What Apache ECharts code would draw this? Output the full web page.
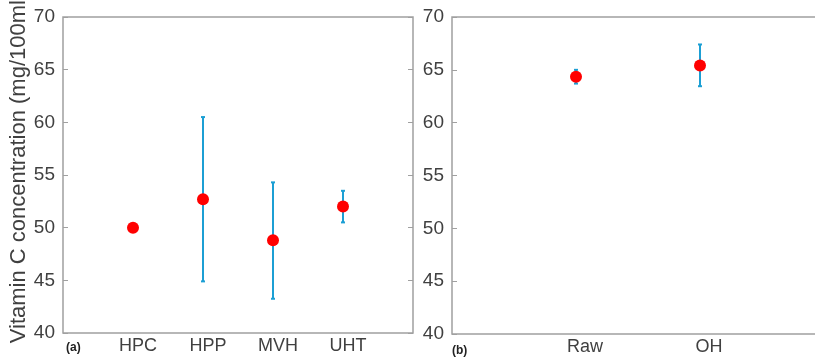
<!DOCTYPE html>
<html><head><meta charset="utf-8">
<script src="https://cdn.jsdelivr.net/npm/echarts@6/dist/echarts.min.js"></script>
<style>html,body{margin:0;padding:0;background:#fff}#c{width:815px;height:360px}</style>
</head><body><div id="c"></div>
<script>
const catsA = ['HPC','HPP','MVH','UHT'];
const meanA = [50.0, 52.7, 48.8, 52.0];
const lowA  = [49.9, 44.9, 43.25, 50.5];
const highA = [50.1, 60.5, 54.3, 53.5];
const catsB = ['Raw','OH'];
const meanB = [64.35, 65.4];
const lowB  = [63.7, 63.45];
const highB = [65.0, 67.4];
const yTicks = [40,45,50,55,60,65,70];
const yName = 'Vitamin C concentration (mg/100ml)';

const txt = '#404040', frame = '#a0a0a0', errC = '#1c9fd4';
const font = 'Liberation Sans, Arial, sans-serif';

function xAxisFor(idx, cats, padL, maxV){
  return [{
    gridIndex: idx, type:'value', min:0, max:maxV, interval:1,
    axisLine:{show:false}, axisTick:{show:false}, splitLine:{show:false},
    axisLabel:{color:txt, fontSize:18, fontFamily:font, margin:4, padding:[0,0,0,padL],
      formatter: v => (v>=1 && v<=cats.length) ? cats[v-1] : ''}
  }];
}
function yAxesFor(idx){
  return [{
    gridIndex: idx, type:'value', min:yTicks[0], max:yTicks[yTicks.length-1], interval:5,
    axisLine:{show:false}, splitLine:{show:false},
    axisTick:{show:true, inside:true, length:5, lineStyle:{color:frame}},
    axisLabel:{color:txt, fontSize:19, fontFamily:font, margin:8}
  },{
    gridIndex: idx, type:'value', position:'right', min:yTicks[0], max:yTicks[yTicks.length-1], interval:5,
    axisLine:{show:false}, splitLine:{show:false}, axisLabel:{show:false},
    axisTick:{show:idx===0, inside:true, length:5, lineStyle:{color:frame}}
  }];
}
function errSeries(idx, low, high){
  return {
    type:'custom', xAxisIndex:idx, yAxisIndex:idx*2, z:2,
    data: low.map((l,i)=>[i+1, l, high[i]]),
    renderItem:(p, api)=>{
      const x = api.value(0);
      const a = api.coord([x, api.value(1)]);
      const b = api.coord([x, api.value(2)]);
      const w = 2;
      return {type:'group', children:[
        {type:'line', shape:{x1:a[0],y1:a[1],x2:b[0],y2:b[1]}, style:{stroke:errC, lineWidth:2}},
        {type:'line', shape:{x1:a[0]-w,y1:a[1],x2:a[0]+w,y2:a[1]}, style:{stroke:errC, lineWidth:2}},
        {type:'line', shape:{x1:b[0]-w,y1:b[1],x2:b[0]+w,y2:b[1]}, style:{stroke:errC, lineWidth:2}}
      ]};
    }
  };
}
function ptSeries(idx, mean){
  return {
    type:'scatter', xAxisIndex:idx, yAxisIndex:idx*2, z:3, symbolSize:12,
    itemStyle:{color:'#ff0000', opacity:1},
    data: mean.map((m,i)=>[i+1, m])
  };
}
const chart = echarts.init(document.getElementById('c'), null, {renderer:'canvas'});
chart.setOption({
  animation:false,
  backgroundColor:'#fff',
  grid:[
    {left:63, top:17, width:350, height:316, show:true, borderColor:frame, borderWidth:1.5, backgroundColor:'transparent', outerBoundsMode:'none'},
    {left:452, top:17, width:372, height:317, show:true, borderColor:frame, borderWidth:1.5, backgroundColor:'transparent', outerBoundsMode:'none'}
  ],
  xAxis: [...xAxisFor(0, catsA, 10, 5), ...xAxisFor(1, catsB, 18, 3)],
  yAxis: [...yAxesFor(0), ...yAxesFor(1)],
  graphic:[
    {type:'text', x:19, y:168, rotation:Math.PI/2,
      style:{text:yName, fill:txt, font:'22px '+font, align:'center', verticalAlign:'middle'}},
    {type:'text', left:66, top:342, style:{text:'(a)', fill:'#222', font:'bold 12px '+font}},
    {type:'text', left:452, top:345, style:{text:'(b)', fill:'#222', font:'bold 12px '+font}}
  ],
  series:[
    errSeries(0, lowA, highA), ptSeries(0, meanA),
    errSeries(1, lowB, highB), ptSeries(1, meanB)
  ]
});
</script></body></html>
